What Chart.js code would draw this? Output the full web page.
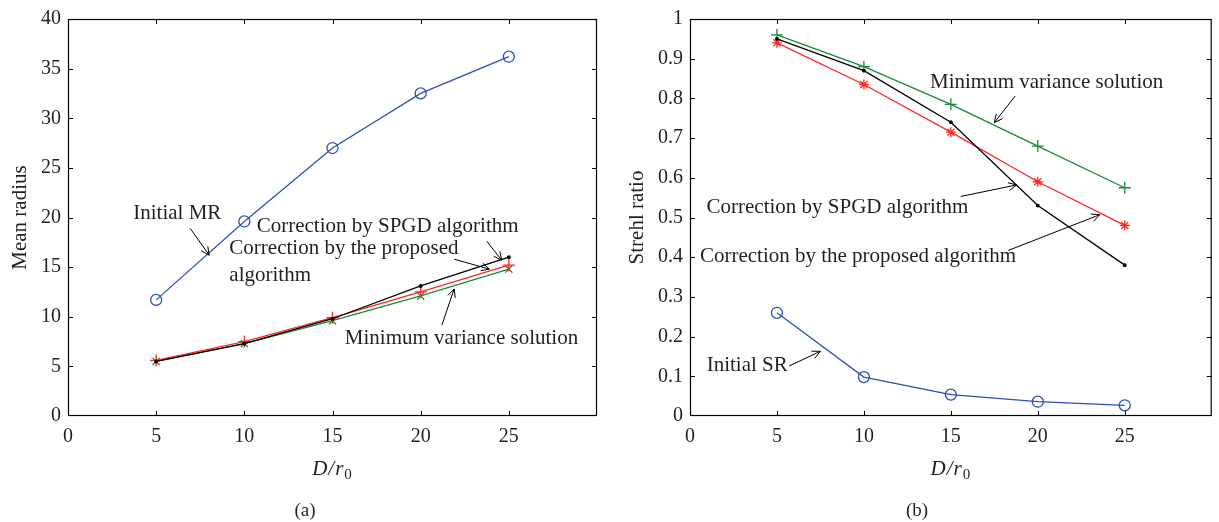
<!DOCTYPE html>
<html>
<head>
<meta charset="utf-8">
<script src="https://cdn.jsdelivr.net/npm/chart.js@4/dist/chart.umd.min.js"></script>
<style>
  body { margin: 0; background: #fff; width: 1219px; height: 522px; overflow: hidden; position: relative; font-family: "Liberation Serif", serif; }
  canvas { position: absolute; top: 0; }
  #chart-a { left: 0; }
  #chart-b { left: 610px; }
  .cap { position: absolute; top: 499px; width: 40px; text-align: center; font-size: 19px; color: #231f20; }
</style>
</head>
<body>
<canvas id="chart-a" width="610" height="522"></canvas>
<canvas id="chart-b" width="609" height="522"></canvas>
<div class="cap" style="left:285px">(a)</div>
<div class="cap" style="left:897px">(b)</div>
<script>
// D/r0 values shared by both panels
const dOverR0 = [5, 10, 15, 20, 25];
const xTicks = [0, 5, 10, 15, 20, 25];
const radiusTicks = [0, 5, 10, 15, 20, 25, 30, 35, 40];
const strehlTicks = [0, 0.1, 0.2, 0.3, 0.4, 0.5, 0.6, 0.7, 0.8, 0.9, 1];

// (a) mean radius
const mrInitial = [11.7, 19.6, 27.0, 32.5, 36.2];
const mrSpgd = [5.5, 7.3, 9.8, 13.1, 16.0];
const mrProposed = [5.6, 7.5, 9.9, 12.5, 15.2];
const mrMinVar = [5.5, 7.3, 9.6, 12.1, 14.8];

// (b) Strehl ratio
const srInitial = [0.26, 0.098, 0.054, 0.036, 0.027];
const srSpgd = [0.95, 0.87, 0.74, 0.53, 0.38];
const srProposed = [0.94, 0.835, 0.715, 0.59, 0.48];
const srMinVar = [0.96, 0.88, 0.785, 0.68, 0.575];

const INK = '#231f20';
const FONT = '"Liberation Serif", "Times New Roman", serif';
const BLUE = '#2e4fb5', RED = '#ff2626', GREEN = '#1b8a3a';

function pts(vals) {
    return dOverR0.map((d, i) => ({ x: d, y: vals[i] }));
}

function drawArrow(ctx, x1, y1, x2, y2) {
    const ang = Math.atan2(y2 - y1, x2 - x1);
    const len = 9;
    ctx.beginPath();
    ctx.moveTo(x1, y1);
    ctx.lineTo(x2, y2);
    ctx.moveTo(x2 - len * Math.cos(ang - 0.45), y2 - len * Math.sin(ang - 0.45));
    ctx.lineTo(x2, y2);
    ctx.lineTo(x2 - len * Math.cos(ang + 0.45), y2 - len * Math.sin(ang + 0.45));
    ctx.stroke();
}

// box, inward ticks, axis titles and the text callouts
const framePlugin = {
    id: 'frame',
    afterDatasetsDraw(chart, args, opts) {
        const { ctx, chartArea: a, scales: { x, y } } = chart;
        ctx.save();
        ctx.strokeStyle = '#000';
        ctx.lineWidth = 1.2;
        ctx.strokeRect(a.left + 0.5, a.top + 0.5, a.right - a.left - 1, a.bottom - a.top - 1);
        ctx.lineWidth = 1;
        ctx.beginPath();
        x.ticks.forEach(t => {
            if (t.value <= x.min || t.value >= x.max) return;
            const px = Math.round(x.getPixelForValue(t.value)) + 0.5;
            ctx.moveTo(px, a.bottom); ctx.lineTo(px, a.bottom - 5);
            ctx.moveTo(px, a.top); ctx.lineTo(px, a.top + 5);
        });
        y.ticks.forEach(t => {
            if (t.value <= y.min || t.value >= y.max) return;
            const py = Math.round(y.getPixelForValue(t.value)) + 0.5;
            ctx.moveTo(a.left, py); ctx.lineTo(a.left + 5, py);
            ctx.moveTo(a.right, py); ctx.lineTo(a.right - 5, py);
        });
        ctx.stroke();

        ctx.fillStyle = INK;
        ctx.font = '21px ' + FONT;
        ctx.textBaseline = 'middle';
        ctx.textAlign = 'left';
        opts.labels.forEach(l => ctx.fillText(l.text, x.getPixelForValue(l.x), y.getPixelForValue(l.y)));
        ctx.strokeStyle = '#000';
        opts.arrows.forEach(ar => drawArrow(ctx,
            x.getPixelForValue(ar[0]), y.getPixelForValue(ar[1]),
            x.getPixelForValue(ar[2]), y.getPixelForValue(ar[3])));

        // x title: D/r0
        const cx = (a.left + a.right) / 2, ty = 469;
        const parts = [['italic 21px ' + FONT, 'D', 0], ['italic 21px ' + FONT, '/', 0],
                       ['italic 21px ' + FONT, 'r', 0], ['15px ' + FONT, '0', 6]];
        let w = 0;
        parts.forEach(p => { ctx.font = p[0]; w += ctx.measureText(p[1]).width + 1; });
        let px = cx - w / 2;
        parts.forEach(p => { ctx.font = p[0]; ctx.fillText(p[1], px, ty + p[2]); px += ctx.measureText(p[1]).width + 1; });

        // y title
        ctx.translate(opts.yTitleX, (a.top + a.bottom) / 2);
        ctx.rotate(-Math.PI / 2);
        ctx.textAlign = 'center';
        ctx.font = '21px ' + FONT;
        ctx.fillText(opts.yTitle, 0, 0);
        ctx.restore();
    }
};

function makeChart(id, datasets, yTickVals, yMax, frame, yWidth, padRight) {
    return new Chart(document.getElementById(id), {
        type: 'line',
        data: { datasets },
        plugins: [framePlugin],
        options: {
            responsive: false,
            animation: false,
            layout: { padding: { top: 18, right: padRight, bottom: 0, left: 0 } },
            plugins: { legend: { display: false }, tooltip: { enabled: false }, frame },
            scales: {
                x: {
                    type: 'linear', min: 0, max: 30,
                    afterBuildTicks: s => { s.ticks = xTicks.map(v => ({ value: v })); },
                    afterFit: s => { s.height = 106; },
                    grid: { display: false, drawTicks: false },
                    border: { display: false },
                    ticks: { padding: 9, color: INK, font: { family: FONT, size: 20 } }
                },
                y: {
                    min: 0, max: yMax,
                    afterBuildTicks: s => { s.ticks = yTickVals.map(v => ({ value: v })); },
                    afterFit: s => { s.width = yWidth; },
                    grid: { display: false, drawTicks: false },
                    border: { display: false },
                    ticks: { padding: 7, color: INK, font: { family: FONT, size: 20 },
                             callback: v => String(Math.round(v * 10) / 10) }
                }
            }
        }
    });
}

function series(vals, color, style, radius, fill) {
    return {
        data: pts(vals), borderColor: color, borderWidth: 1.3,
        pointStyle: style, pointRadius: radius, pointBorderColor: color,
        pointBackgroundColor: fill || 'transparent', pointBorderWidth: 1.3, tension: 0
    };
}

makeChart('chart-a', [
    series(mrInitial, BLUE, 'circle', 5.5),
    series(mrSpgd, '#000', 'circle', 1.3, '#000'),
    series(mrProposed, RED, 'cross', 6),
    series(mrMinVar, GREEN, 'crossRot', 5)
], radiusTicks, 40, {
    yTitle: 'Mean radius', yTitleX: 20,
    labels: [
        { text: 'Initial MR', x: 3.7, y: 20.4 },
        { text: 'Correction by SPGD algorithm', x: 10.7, y: 19.1 },
        { text: 'Correction by the proposed', x: 9.15, y: 16.9 },
        { text: 'algorithm', x: 9.15, y: 14.2 },
        { text: 'Minimum variance solution', x: 15.7, y: 7.8 }
    ],
    arrows: [
        [6.93, 18.9, 8.01, 16.2],
        [23.75, 17.6, 24.6, 15.7],
        [21.9, 15.8, 23.9, 14.8],
        [21.2, 9.15, 21.9, 12.8]
    ]
}, 68, 13);

makeChart('chart-b', [
    series(srInitial, BLUE, 'circle', 5.5),
    series(srSpgd, '#000', 'circle', 1.3, '#000'),
    series(srProposed, RED, 'star', 5),
    series(srMinVar, GREEN, 'cross', 6)
], strehlTicks, 1, {
    yTitle: 'Strehl ratio', yTitleX: 27,
    labels: [
        { text: 'Minimum variance solution', x: 13.8, y: 0.84 },
        { text: 'Correction by SPGD algorithm', x: 0.95, y: 0.526 },
        { text: 'Correction by the proposed algorithm', x: 0.57, y: 0.402 },
        { text: 'Initial SR', x: 0.96, y: 0.126 }
    ],
    arrows: [
        [18.7, 0.806, 17.5, 0.739],
        [15.57, 0.553, 18.78, 0.582],
        [18.3, 0.417, 23.56, 0.507],
        [5.7, 0.126, 7.5, 0.163]
    ]
}, 80, 1);
</script>
</body>
</html>
